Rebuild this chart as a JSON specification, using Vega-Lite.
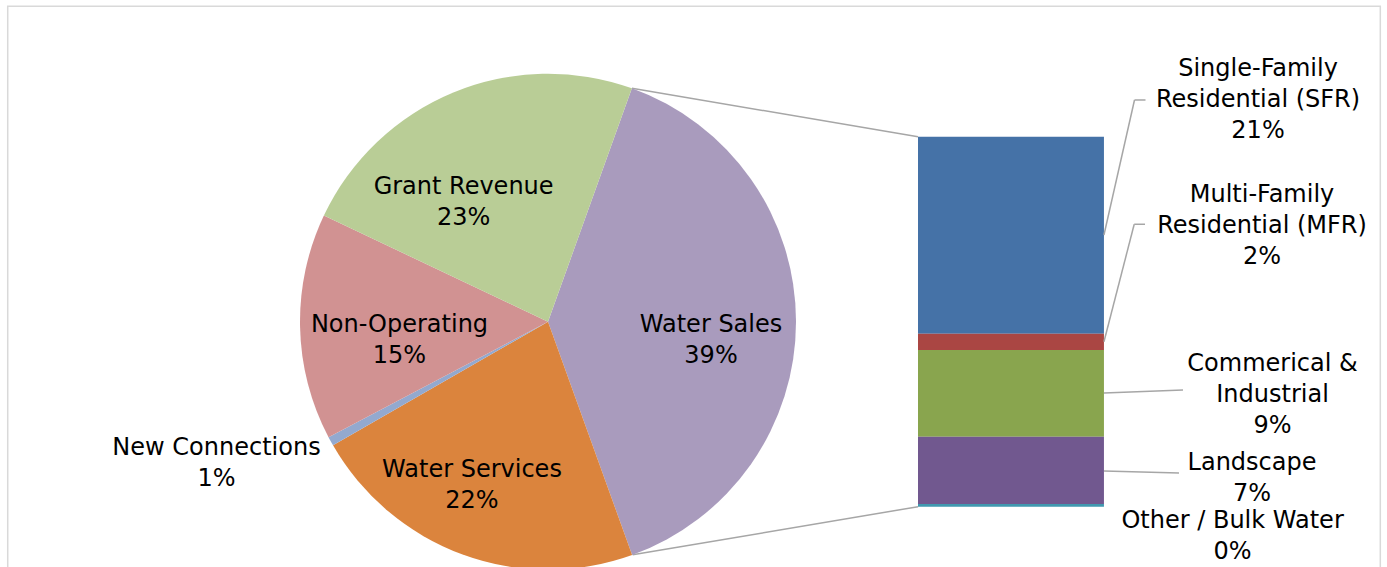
{
  "$schema": "https://vega.github.io/schema/vega-lite/v6.json",
  "width": 1387,
  "height": 567,
  "padding": 0,
  "autosize": {"type": "none"},
  "background": "#ffffff",
  "config": {
    "view": {"stroke": null},
    "axis": {"disable": true},
    "text": {"font": "DejaVu Sans", "fontSize": 24, "lineHeight": 31, "color": "#000000", "align": "center", "baseline": "middle", "lineBreak": "\n"}
  },
  "datasets": {
    "pie": [
      {"name": "Water Sales", "label": "Water Sales\n39%", "share": 39.0, "k": 1},
      {"name": "Water Services", "label": "Water Services\n22%", "share": 22.2, "k": 2},
      {"name": "New Connections", "label": "New Connections\n1%", "share": 0.6, "k": 3},
      {"name": "Non-Operating", "label": "Non-Operating\n15%", "share": 14.75, "k": 4},
      {"name": "Grant Revenue", "label": "Grant Revenue\n23%", "share": 23.45, "k": 5}
    ],
    "bar": [
      {"name": "Single-Family Residential (SFR)", "label": "Single-Family\nResidential (SFR)\n21%", "share": 20.77, "k": 5},
      {"name": "Multi-Family Residential (MFR)", "label": "Multi-Family\nResidential (MFR)\n2%", "share": 1.72, "k": 4},
      {"name": "Commerical & Industrial", "label": "Commerical &\nIndustrial\n9%", "share": 9.14, "k": 3},
      {"name": "Landscape", "label": "Landscape\n7%", "share": 7.09, "k": 2},
      {"name": "Other / Bulk Water", "label": "Other / Bulk Water\n0%", "share": 0.28, "k": 1}
    ]
  },
  "layer": [
    {
      "data": {"values": [{}]},
      "mark": {"type": "rect", "fillOpacity": 0, "stroke": "#D9D9D9", "strokeWidth": 1.5},
      "encoding": {
        "x": {"datum": -95.95, "type": "quantitative", "scale": {"domain": [-96.763, 49.435], "nice": false, "zero": false}},
        "x2": {"datum": 48.73},
        "y": {"datum": 52.745, "type": "quantitative", "scale": {"domain": [-6.356, 53.409], "nice": false, "zero": false}},
        "y2": {"datum": -12}
      }
    },
    {
      "data": {"values": [{}]},
      "mark": {"type": "rule", "color": "#A6A6A6", "strokeWidth": 1.5},
      "encoding": {"x": {"datum": -30.16, "type": "quantitative"}, "y": {"datum": 44.10, "type": "quantitative"}, "x2": {"datum": 0}, "y2": {"datum": 39}}
    },
    {
      "data": {"values": [{}]},
      "mark": {"type": "rule", "color": "#A6A6A6", "strokeWidth": 1.5},
      "encoding": {"x": {"datum": -30.08, "type": "quantitative"}, "y": {"datum": -5.07, "type": "quantitative"}, "x2": {"datum": 0}, "y2": {"datum": 0}}
    },
    {
      "data": {"name": "pie"},
      "mark": {"type": "arc", "outerRadius": 248},
      "encoding": {
        "theta": {"field": "share", "type": "quantitative", "stack": true, "scale": {"range": [0.34505, 6.62824]}},
        "order": {"field": "k", "type": "quantitative"},
        "color": {"field": "name", "type": "nominal", "legend": null, "scale": {
          "domain": ["Water Sales", "Water Services", "New Connections", "Non-Operating", "Grant Revenue", "Single-Family Residential (SFR)", "Multi-Family Residential (MFR)", "Commerical & Industrial", "Landscape", "Other / Bulk Water"],
          "range": ["#A99BBD", "#DB843D", "#93A9CF", "#D19292", "#B9CD96", "#4572A7", "#AA4643", "#89A54E", "#71588F", "#4198AF"]}},
        "x": {"datum": -39, "type": "quantitative"},
        "y": {"datum": 19.5, "type": "quantitative"}
      }
    },
    {
      "data": {"name": "pie"},
      "mark": {"type": "text", "radius": 164.1, "thetaOffset": 0.1154, "dy": -15.5},
      "encoding": {
        "theta": {"field": "share", "type": "quantitative", "stack": true, "scale": {"range": [0.34505, 6.62824]}},
        "order": {"field": "k", "type": "quantitative"},
        "detail": {"field": "name", "type": "nominal"},
        "x": {"datum": -39, "type": "quantitative"},
        "y": {"datum": 19.5, "type": "quantitative"},
        "text": {"condition": {"test": "datum.k === 1", "field": "label", "type": "nominal"}, "value": ""}
      }
    },
    {
      "data": {"name": "pie"},
      "mark": {"type": "text", "radius": 180.5, "thetaOffset": 0.0833, "dy": -15.5},
      "encoding": {
        "theta": {"field": "share", "type": "quantitative", "stack": true, "scale": {"range": [0.34505, 6.62824]}},
        "order": {"field": "k", "type": "quantitative"},
        "detail": {"field": "name", "type": "nominal"},
        "x": {"datum": -39, "type": "quantitative"},
        "y": {"datum": 19.5, "type": "quantitative"},
        "text": {"condition": {"test": "datum.k === 2", "field": "label", "type": "nominal"}, "value": ""}
      }
    },
    {
      "data": {"name": "pie"},
      "mark": {"type": "text", "radius": 360.4, "thetaOffset": 0.1, "dy": -15.5},
      "encoding": {
        "theta": {"field": "share", "type": "quantitative", "stack": true, "scale": {"range": [0.34505, 6.62824]}},
        "order": {"field": "k", "type": "quantitative"},
        "detail": {"field": "name", "type": "nominal"},
        "x": {"datum": -39, "type": "quantitative"},
        "y": {"datum": 19.5, "type": "quantitative"},
        "text": {"condition": {"test": "datum.k === 3", "field": "label", "type": "nominal"}, "value": ""}
      }
    },
    {
      "data": {"name": "pie"},
      "mark": {"type": "text", "radius": 149.7, "thetaOffset": -0.1047, "dy": -15.5},
      "encoding": {
        "theta": {"field": "share", "type": "quantitative", "stack": true, "scale": {"range": [0.34505, 6.62824]}},
        "order": {"field": "k", "type": "quantitative"},
        "detail": {"field": "name", "type": "nominal"},
        "x": {"datum": -39, "type": "quantitative"},
        "y": {"datum": 19.5, "type": "quantitative"},
        "text": {"condition": {"test": "datum.k === 4", "field": "label", "type": "nominal"}, "value": ""}
      }
    },
    {
      "data": {"name": "pie"},
      "mark": {"type": "text", "radius": 145.7, "thetaOffset": -0.2262, "dy": -15.5},
      "encoding": {
        "theta": {"field": "share", "type": "quantitative", "stack": true, "scale": {"range": [0.34505, 6.62824]}},
        "order": {"field": "k", "type": "quantitative"},
        "detail": {"field": "name", "type": "nominal"},
        "x": {"datum": -39, "type": "quantitative"},
        "y": {"datum": 19.5, "type": "quantitative"},
        "text": {"condition": {"test": "datum.k === 5", "field": "label", "type": "nominal"}, "value": ""}
      }
    },
    {
      "data": {"name": "bar"},
      "transform": [{"stack": "share", "groupby": [], "sort": [{"field": "k", "order": "ascending"}], "as": ["y0", "y1"]}],
      "mark": {"type": "rect"},
      "encoding": {
        "x": {"datum": 0, "type": "quantitative"},
        "x2": {"datum": 19.6},
        "y": {"field": "y0", "type": "quantitative"},
        "y2": {"field": "y1"},
        "color": {"field": "name", "type": "nominal", "legend": null}
      }
    },
    {
      "data": {"values": [{}]},
      "mark": {"type": "rule", "color": "#A6A6A6", "strokeWidth": 1.5},
      "encoding": {"x": {"datum": 19.6, "type": "quantitative"}, "y": {"datum": 28.64, "type": "quantitative"}, "x2": {"datum": 22.82}, "y2": {"datum": 42.87}}
    },
    {
      "data": {"values": [{}]},
      "mark": {"type": "rule", "color": "#A6A6A6", "strokeWidth": 1.5},
      "encoding": {"x": {"datum": 22.82, "type": "quantitative"}, "y": {"datum": 42.87, "type": "quantitative"}, "x2": {"datum": 23.98}, "y2": {"datum": 42.87}}
    },
    {
      "data": {"values": [{}]},
      "mark": {"type": "rule", "color": "#A6A6A6", "strokeWidth": 1.5},
      "encoding": {"x": {"datum": 19.6, "type": "quantitative"}, "y": {"datum": 17.39, "type": "quantitative"}, "x2": {"datum": 22.79}, "y2": {"datum": 29.77}}
    },
    {
      "data": {"values": [{}]},
      "mark": {"type": "rule", "color": "#A6A6A6", "strokeWidth": 1.5},
      "encoding": {"x": {"datum": 22.79, "type": "quantitative"}, "y": {"datum": 29.77, "type": "quantitative"}, "x2": {"datum": 23.93}, "y2": {"datum": 29.77}}
    },
    {
      "data": {"values": [{}]},
      "mark": {"type": "rule", "color": "#A6A6A6", "strokeWidth": 1.5},
      "encoding": {"x": {"datum": 19.6, "type": "quantitative"}, "y": {"datum": 11.98, "type": "quantitative"}, "x2": {"datum": 27.93}, "y2": {"datum": 12.30}}
    },
    {
      "data": {"values": [{}]},
      "mark": {"type": "rule", "color": "#A6A6A6", "strokeWidth": 1.5},
      "encoding": {"x": {"datum": 19.6, "type": "quantitative"}, "y": {"datum": 3.76, "type": "quantitative"}, "x2": {"datum": 27.51}, "y2": {"datum": 3.55}}
    },
    {
      "data": {"name": "bar"},
      "transform": [{"filter": "datum.k === 5"}],
      "mark": {"type": "text", "dy": -31},
      "encoding": {"x": {"datum": 35.84, "type": "quantitative"}, "y": {"datum": 42.86, "type": "quantitative"}, "text": {"field": "label", "type": "nominal"}}
    },
    {
      "data": {"name": "bar"},
      "transform": [{"filter": "datum.k === 4"}],
      "mark": {"type": "text", "dy": -31},
      "encoding": {"x": {"datum": 36.26, "type": "quantitative"}, "y": {"datum": 29.54, "type": "quantitative"}, "text": {"field": "label", "type": "nominal"}}
    },
    {
      "data": {"name": "bar"},
      "transform": [{"filter": "datum.k === 3"}],
      "mark": {"type": "text", "dy": -31},
      "encoding": {"x": {"datum": 37.37, "type": "quantitative"}, "y": {"datum": 11.76, "type": "quantitative"}, "text": {"field": "label", "type": "nominal"}}
    },
    {
      "data": {"name": "bar"},
      "transform": [{"filter": "datum.k === 2"}],
      "mark": {"type": "text", "dy": -15.5},
      "encoding": {"x": {"datum": 35.21, "type": "quantitative"}, "y": {"datum": 2.94, "type": "quantitative"}, "text": {"field": "label", "type": "nominal"}}
    },
    {
      "data": {"name": "bar"},
      "transform": [{"filter": "datum.k === 1"}],
      "mark": {"type": "text", "dy": -15.5},
      "encoding": {"x": {"datum": 33.16, "type": "quantitative"}, "y": {"datum": -3.13, "type": "quantitative"}, "text": {"field": "label", "type": "nominal"}}
    }
  ]
}
